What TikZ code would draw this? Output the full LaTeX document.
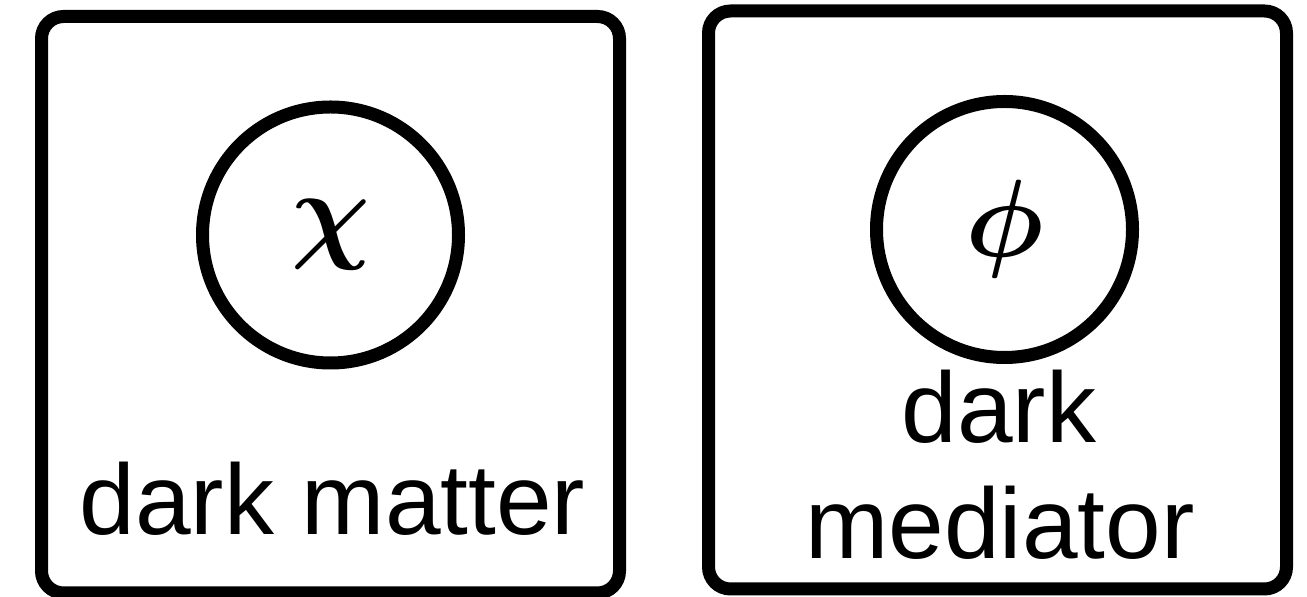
\RequirePackage{fix-cm}
\documentclass[tikz,border=0pt]{standalone}
\usepackage{fontspec}
\setmainfont{Liberation Sans}
\begin{document}
\begin{tikzpicture}[x=0.5pt,y=-0.5pt,
  boxstyle/.style={draw, line width=6.5pt, rounded corners=11pt, inner sep=0pt},
  ringstyle/.style={circle, draw, line width=6.5pt, minimum size=128pt, inner sep=0pt, font=\fontsize{55}{60}\selectfont\boldmath},
  labelstyle/.style={font=\fontsize{50}{60}\selectfont, anchor=base, inner sep=0pt}]
\useasboundingbox (0,0) rectangle (1307,597);
\node[boxstyle, minimum width=289pt, minimum height=288.25pt] (leftbox) at (330.5,304.75) {};
\node[boxstyle, minimum width=289pt, minimum height=289pt] (rightbox) at (997.5,300) {};
\node[ringstyle] (chiring) at (330.5,235) {$\chi$};
\node[ringstyle] (phiring) at (1004.5,229.5) {$\phi$};
\node[labelstyle] (dmlabel) at (332.5,535) {dark matter};
\node[labelstyle] (darkword) at (999,443) {dark};
\node[labelstyle] (medword) at (1000,559) {mediator};
\end{tikzpicture}
\end{document}
